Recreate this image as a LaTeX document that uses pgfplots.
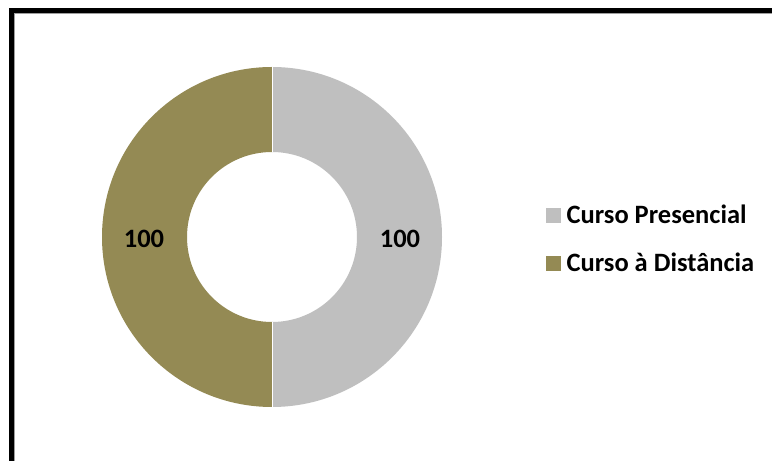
\documentclass[border=0pt]{standalone}
\usepackage{fontspec}
\setmainfont{Carlito}
\usepackage{pgfplots}
\usepackage{pgfplotstable}
\usetikzlibrary{calc}
\pgfplotsset{compat=1.18}
\definecolor{cPres}{HTML}{BFBFBF}
\definecolor{cDist}{HTML}{948A54}
\pgfplotstableread[col sep=comma]{
label,value
Curso Presencial,100
Curso à Distância,100
}\donutdata
\begin{document}
\begin{tikzpicture}[x=1pt,y=1pt]
\path[use as bounding box] (0,0) rectangle (772,461);
\clip (0,0) rectangle (772,461);
\fill[white] (0,0) rectangle (772,461);
\pgfplotstablegetelem{0}{value}\of\donutdata \let\va\pgfplotsretval
\pgfplotstablegetelem{1}{value}\of\donutdata \let\vb\pgfplotsretval
\pgfmathsetmacro\total{\va+\vb}
\pgfmathsetmacro\aA{90-360*(\va/\total)}
\pgfmathsetmacro\aB{\aA-360*(\vb/\total)}
\pgfmathsetmacro\mA{(90+\aA)/2}
\pgfmathsetmacro\mB{(\aA+\aB)/2}
\begin{axis}[
  at={(0,0)}, anchor=south west,
  scale only axis, width=772pt, height=461pt,
  xmin=0, xmax=772, ymin=0, ymax=461,
  hide axis, clip=false,
  legend style={at={(axis cs:546,222)}, anchor=west, draw=none, fill=none,
    font=\fontsize{26.5}{31}\selectfont\bfseries, row sep=24pt,
    inner sep=0pt, nodes={inner sep=2pt},
    /tikz/every odd column/.append style={column sep=4pt}},
  legend cell align=left,
  legend image code/.code={\fill (0pt,-7pt) rectangle (14pt,7pt);},
]
\addlegendimage{cPres, fill=cPres}
\addlegendentry{Curso Presencial}
\addlegendimage{cDist, fill=cDist}
\addlegendentry{Curso à Distância}
\fill[cPres] (axis cs:272,224) ++(90:170) arc[start angle=90, end angle=\aA, radius=170]
   -- ++(\aA:-85) arc[start angle=\aA, end angle=90, radius=85] -- cycle;
\fill[cDist] (axis cs:272,224) ++(\aA:170) arc[start angle=\aA, end angle=\aB, radius=170]
   -- ++(\aB:-85) arc[start angle=\aB, end angle=\aA, radius=85] -- cycle;
\draw[white, line width=0.8pt] (axis cs:272,224) ++(90:85) -- ++(90:85);
\draw[white, line width=0.8pt] (axis cs:272,224) ++(\aA:85) -- ++(\aA:85);
\node[font=\fontsize{26.5}{31}\selectfont\bfseries] at ($(axis cs:272,222)+(\mA:128)$) {\pgfmathprintnumber[assume math mode=true]{\va}};
\node[font=\fontsize{26.5}{31}\selectfont\bfseries] at ($(axis cs:272,222)+(\mB:128)$) {\pgfmathprintnumber[assume math mode=true]{\vb}};
\end{axis}
\draw[black, line width=5pt] (11.5,-20) -- (11.5,450) -- (800,450);
\draw[black!38, line width=1.3pt] (14.7,-20) -- (14.7,447.4) -- (800,447.4);
\end{tikzpicture}
\end{document}
